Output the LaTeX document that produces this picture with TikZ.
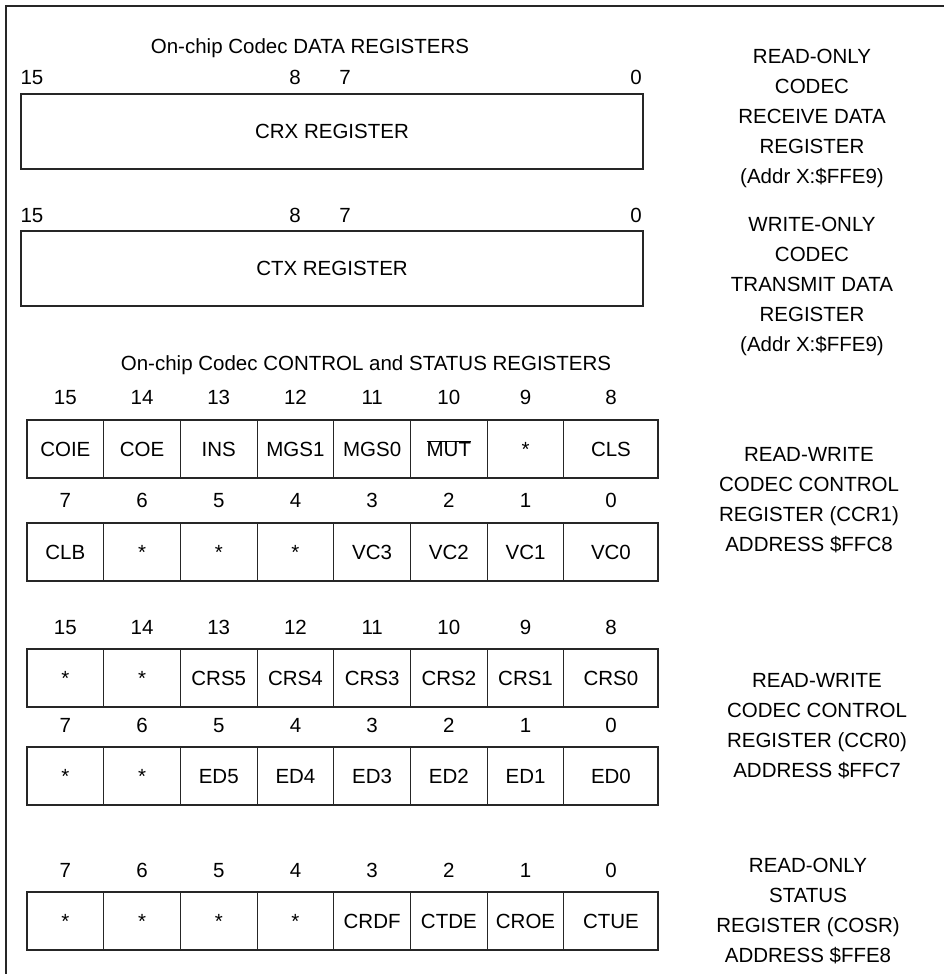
\documentclass[tikz,border=0pt]{standalone}
\usepackage{fontspec}
\setmainfont{Liberation Sans}
\usetikzlibrary{calc}
\begin{document}
\begin{tikzpicture}[x=1pt,y=-1pt,
  every node/.style={font=\fontsize{20.5}{30}\selectfont, inner sep=0pt, outer sep=0pt},
  frame/.style={line width=1.4pt, black!85},
  regbox/.style={draw=black!85, line width=1.1pt, rectangle, anchor=north west, minimum height=58pt},
  bigbox/.style={draw=black!85, line width=1.1pt, rectangle, anchor=north west, minimum width=622pt, minimum height=75pt},
  side/.style={align=center},
  bitnum/.style={anchor=center, text height=14.7pt, text depth=0pt},
  celltext/.style={text height=14.7pt, text depth=0pt}]
\useasboundingbox (0,0) rectangle (944,974);
% frame
\coordinate (fb) at (6,974);
\coordinate (ft) at (6,6);
\coordinate (fr) at (944,6);
\draw[frame] (fb) -- (ft) -- (fr);

% data registers
\node (dtitle) at (310,48) {On-chip Codec DATA REGISTERS};
\node[bitnum] (a15) at (32,77) {15};
\node[bitnum] (a8) at (295,77) {8};
\node[bitnum] (a7) at (345,77) {7};
\node[bitnum] (a0) at (636,77) {0};
\node[bigbox] (crx) at (21,94) {};
\node (crxt) at (crx.center) {CRX REGISTER};
\node[bitnum] (b15) at (32,215) {15};
\node[bitnum] (b8) at (295,215) {8};
\node[bitnum] (b7) at (345,215) {7};
\node[bitnum] (b0) at (636,215) {0};
\node[bigbox] (ctx) at (21,231) {};
\node (ctxt) at (ctx.center) {CTX REGISTER};

\node[side] (s1) at (812,118) {READ-ONLY\\CODEC\\RECEIVE DATA\\REGISTER\\(Addr X:\$FFE9)};
\node[side] (s2) at (812,286) {WRITE-ONLY\\CODEC\\TRANSMIT DATA\\REGISTER\\(Addr X:\$FFE9)};

% control registers
\node (ctitle) at (366,365) {On-chip Codec CONTROL and STATUS REGISTERS};

\foreach \r/\ly/\by/\hi in {p/397/420/1, q/500/523/0, u/627/649/1, v/725/747/0, w/870/892/0}{
  \foreach \k in {0,...,7}{
    \pgfmathsetmacro{\xl}{27+76.7*\k}
    \pgfmathsetmacro{\cellw}{\k==7 ? 94.1 : 76.7}
    \pgfmathtruncatemacro{\bit}{7-\k+8*\hi}
    \node[regbox, minimum width=\cellw pt] (\r c\k) at (\xl,\by) {};
    \node[bitnum] (\r n\k) at ($(\r c\k.north)+(0,\ly-\by)$) {\bit};
  }
}
% cell texts
\foreach \r/\list in {
  p/{COIE,COE,INS,MGS1,MGS0,$\overline{\mbox{MUT}}$,*,CLS},
  q/{CLB,*,*,*,VC3,VC2,VC1,VC0},
  u/{*,*,CRS5,CRS4,CRS3,CRS2,CRS1,CRS0},
  v/{*,*,ED5,ED4,ED3,ED2,ED1,ED0},
  w/{*,*,*,*,CRDF,CTDE,CROE,CTUE}}{
  \foreach \t [count=\j from 0] in \list {
    \node[celltext] (\r t\j) at (\r c\j.center) {\t};
  }
}

\node[side] (s3) at (809,500) {READ-WRITE\\CODEC CONTROL\\REGISTER (CCR1)\\ADDRESS \$FFC8};
\node[side] (s4) at (817,726) {READ-WRITE\\CODEC CONTROL\\REGISTER (CCR0)\\ADDRESS \$FFC7};
\node[side] (s5) at (808,911) {READ-ONLY\\STATUS\\REGISTER (COSR)\\ADDRESS \$FFE8};
\end{tikzpicture}
\end{document}
